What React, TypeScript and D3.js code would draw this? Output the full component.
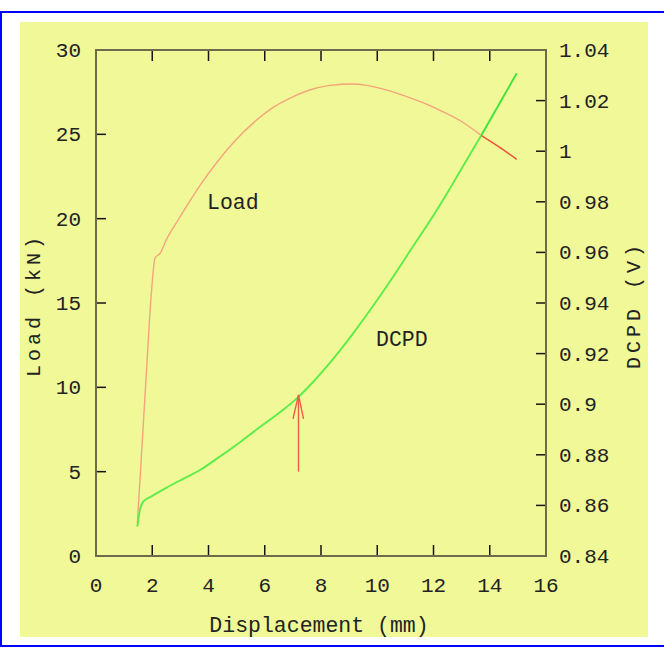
import React from "react";
import * as d3 from "d3";

// ---- data ----
const loadDisp = [1.47, 1.6, 1.81, 1.96, 2.1, 2.28, 2.5, 2.93, 3.3, 3.7, 4.35, 4.88, 5.71, 6.3, 6.9, 7.49, 8.32, 9.14, 9.62, 10.34, 11.0, 11.64, 12.11, 12.94, 13.71, 14.3, 14.96];
const loadKN = [1.96, 5.5, 11.4, 15.4, 17.67, 17.95, 18.75, 19.95, 20.95, 21.98, 23.45, 24.5, 25.85, 26.6, 27.15, 27.57, 27.9, 27.98, 27.9, 27.62, 27.27, 26.86, 26.52, 25.82, 24.92, 24.28, 23.52];

const dcpdDisp = [1.47, 1.56, 1.68, 1.98, 2.51, 3.1, 3.7, 4.17, 5.12, 5.71, 6.54, 7.19, 7.61, 8.44, 9.21, 9.86, 10.57, 11.28, 11.99, 12.41, 12.94, 13.71, 14.25, 14.96];
const dcpdV = [0.8516, 0.8582, 0.8615, 0.8636, 0.867, 0.8705, 0.874, 0.8775, 0.885, 0.89, 0.8968, 0.9028, 0.9075, 0.918, 0.929, 0.939, 0.9505, 0.9625, 0.9745, 0.982, 0.992, 1.0065, 1.017, 1.0308];

const crossDisp = 13.71; // where the two curves cross

const xTicks = [0, 2, 4, 6, 8, 10, 12, 14, 16];
const loadTicks = [0, 5, 10, 15, 20, 25, 30];
const dcpdTicks = [0.84, 0.86, 0.88, 0.9, 0.92, 0.94, 0.96, 0.98, 1, 1.02, 1.04];

const arrowDisp = 7.2;
const arrowFromKN = 5;
const arrowToKN = 9.55;

const xLabel = "Displacement (mm)";
const yLeftLabel = "Load (kN)";
const yRightLabel = "DCPD (V)";

// ---- layout ----
const W = 664;
const H = 648;
const PL = 96, PR = 546, PT = 50, PB = 556;
const FONT = "Liberation Mono, DejaVu Sans Mono, monospace";
const TXT = "#222222";

export default function App() {
  const x = d3.scaleLinear().domain([0, 16]).range([PL, PR]);
  const yL = d3.scaleLinear().domain([0, 30]).range([PB, PT]);
  const yR = d3.scaleLinear().domain([0.84, 1.04]).range([PB, PT]);

  const loadPts: [number, number][] = loadDisp.map((d, i) => [d, loadKN[i]]);
  const dcpdPts: [number, number][] = dcpdDisp.map((d, i) => [d, dcpdV[i]]);

  const loadLine = d3.line<[number, number]>().x(p => x(p[0])).y(p => yL(p[1])).curve(d3.curveMonotoneX);
  const dcpdLine = d3.line<[number, number]>().x(p => x(p[0])).y(p => yR(p[1])).curve(d3.curveMonotoneX);

  const loadA = loadPts.filter(p => p[0] <= crossDisp);
  const loadB = loadPts.filter(p => p[0] >= crossDisp);
  const dcpdA = dcpdPts.filter(p => p[0] <= crossDisp);
  const dcpdB = dcpdPts.filter(p => p[0] >= crossDisp);

  const ax = x(arrowDisp);
  const aTip = yL(arrowToKN);
  const aBase = yL(arrowFromKN);

  return (
    <svg width={W} height={H} style={{ position: "absolute", left: 0, top: 0, display: "block" }}>
      <rect x={0} y={0} width={W} height={H} fill="#ffffff" />
      {/* blue frame */}
      <line x1={0} y1={12} x2={W} y2={12} stroke="#0000ff" strokeWidth={2} />
      <line x1={1} y1={11} x2={1} y2={647} stroke="#0000ff" strokeWidth={2} />
      <line x1={0} y1={646} x2={W} y2={646} stroke="#0000ff" strokeWidth={2} />
      {/* yellow panel */}
      <rect x={20} y={22} width={628} height={615} fill="#f0f898" />

      {/* ticks */}
      <g stroke="#151515" strokeWidth={1.5}>
        {xTicks.slice(1, -1).map(t => (
          <g key={"xt" + t}>
            <line x1={x(t)} x2={x(t)} y1={PB} y2={PB - 11} />
            <line x1={x(t)} x2={x(t)} y1={PT} y2={PT + 11} />
          </g>
        ))}
        {loadTicks.slice(1, -1).map(t => (
          <line key={"lt" + t} x1={PL} x2={PL + 10} y1={yL(t)} y2={yL(t)} />
        ))}
        {dcpdTicks.slice(1, -1).map(t => (
          <line key={"rt" + t} x1={PR} x2={PR - 10} y1={yR(t)} y2={yR(t)} />
        ))}
      </g>
      {/* frame */}
      <rect x={PL} y={PT} width={PR - PL} height={PB - PT} fill="none" stroke="#6c6c4c" strokeWidth={2} />

      {/* curves */}
      <path d={loadLine(loadA) || ""} fill="none" stroke="#f4a47c" strokeWidth={1.4} />
      <path d={dcpdLine(dcpdA) || ""} fill="none" stroke="#5cee48" strokeWidth={1.9} />
      <path d={dcpdLine(dcpdB) || ""} fill="none" stroke="#3ce63a" strokeWidth={1.9} />
      <path d={loadLine(loadB) || ""} fill="none" stroke="#f0503c" strokeWidth={1.5} />

      {/* arrow */}
      <g stroke="#f05a48" strokeWidth={1.4} fill="none">
        <line x1={ax} x2={ax} y1={aBase} y2={aTip} />
        <polyline points={`${ax - 5.5},${aTip + 24} ${ax},${aTip} ${ax + 5},${aTip + 24}`} />
      </g>

      {/* tick labels */}
      <g fontFamily={FONT} fontSize={21} fill={TXT}>
        {xTicks.map(t => (
          <text key={"xl" + t} x={x(t)} y={592} textAnchor="middle">{t}</text>
        ))}
        {loadTicks.map(t => (
          <text key={"ll" + t} x={81} y={yL(t) + 7} textAnchor="end">{t}</text>
        ))}
        {dcpdTicks.map(t => (
          <text key={"rl" + t} x={559} y={yR(t) + 7} textAnchor="start">{String(t)}</text>
        ))}
      </g>

      {/* axis titles */}
      <g fontFamily={FONT} fill={TXT}>
        <text x={(PL + PR) / 2 - 2} y={632} fontSize={21.5} textAnchor="middle">{xLabel}</text>
        <text transform={`translate(40,${(PT + PB) / 2 + 2}) rotate(-90)`} fontSize={20} letterSpacing={4} textAnchor="middle">{yLeftLabel}</text>
        <text transform={`translate(640,${(PT + PB) / 2 + 2}) rotate(-90)`} fontSize={20} letterSpacing={4} textAnchor="middle">{yRightLabel}</text>
        <text x={207} y={209} fontSize={21.5}>Load</text>
        <text x={376} y={346} fontSize={21.5}>DCPD</text>
      </g>
    </svg>
  );
}
